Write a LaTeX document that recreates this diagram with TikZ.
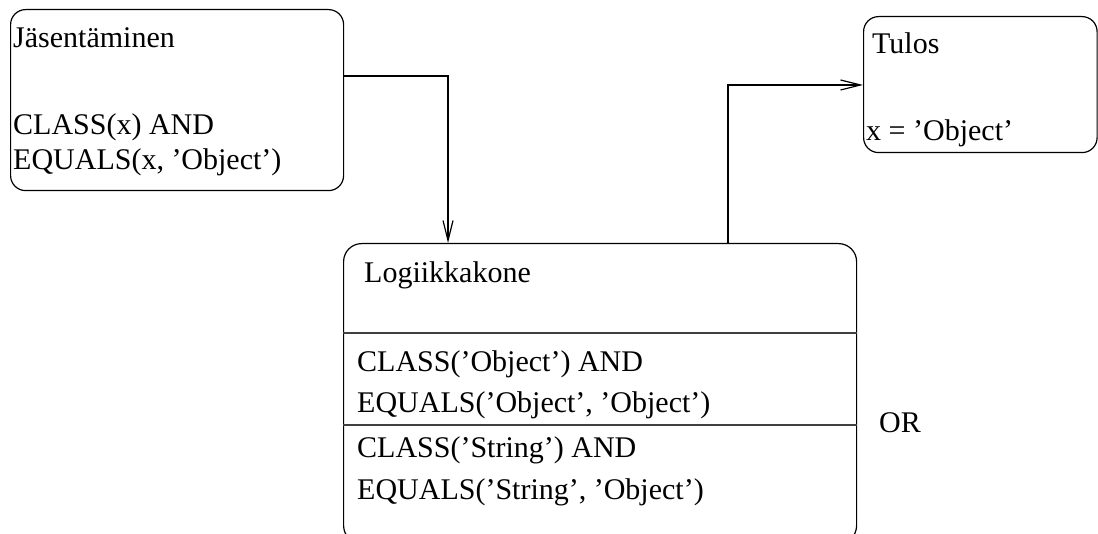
\documentclass[tikz,border=0pt]{standalone}
\usepackage{fontspec}
\setmainfont{Liberation Serif}
\usetikzlibrary{arrows.meta}
\begin{document}
\begin{tikzpicture}[x=1pt,y=-1pt,
  box/.style={draw, line width=1.2pt, rounded corners=15pt, anchor=north west, inner sep=0pt},
  txt/.style={anchor=base west, inner sep=0pt, font=\fontsize{30}{36}\selectfont},
  rule/.style={line width=1.5pt, black!75},
  arr/.style={line width=1.2pt, -{Straight Barb[length=20pt,width=10pt,line width=1.2pt]}}]
\useasboundingbox (0,0) rectangle (1098,534);
\clip (0,0) rectangle (1098,534);
% the three boxes
\node (jas) [box, minimum width=333pt, minimum height=181pt] at (10,9) {};
\node (tulos) [box, minimum width=233.5pt, minimum height=136pt] at (863,16) {};
\node (logic) [box, rounded corners=18pt, minimum width=513pt, minimum height=300pt] at (343,243) {};
% compartments of the logic engine
\coordinate (d1) at (0,333);
\coordinate (d2) at (0,425);
\draw[rule] (logic.west |- d1) -- (logic.east |- d1);
\draw[rule] (logic.west |- d2) -- (logic.east |- d2);
% texts
\node (t1) [txt] at (13,48) {Jäsentäminen};
\node (t2) [txt] at (13,135) {CLASS(x) AND};
\node (t3) [txt] at (13,170) {EQUALS(x, ’Object’)};
\node (t4) [txt] at (872,54) {Tulos};
\node (t5) [txt] at (866,141) {x = ’Object’};
\node (t6) [txt] at (364,283) {Logiikkakone};
\node (t7) [txt] at (357,372) {CLASS(’Object’) AND};
\node (t8) [txt] at (357,413) {EQUALS(’Object’, ’Object’)};
\node (t9) [txt] at (357,457) {CLASS(’String’) AND};
\node (t10) [txt] at (357,499) {EQUALS(’String’, ’Object’)};
\node (or) [txt] at (879,432) {OR};
% connectors
\draw[arr] ([yshift=-67pt]jas.north east) -| ([xshift=105pt]logic.north west);
\draw[arr] ([xshift=385pt]logic.north west) |- ([yshift=-69pt]tulos.north west);
\end{tikzpicture}
\end{document}
